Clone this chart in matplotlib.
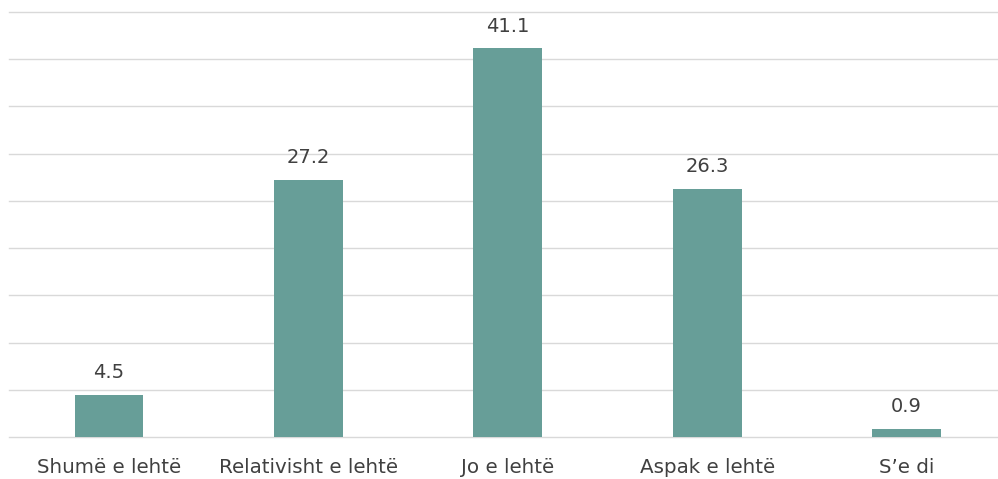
import matplotlib.pyplot as plt

categories = ["Shumë e lehtë", "Relativisht e lehtë", "Jo e lehtë", "Aspak e lehtë", "S’e di"]
values = [4.5, 27.2, 41.1, 26.3, 0.9]

plt.rcParams["font.family"] = ["DejaVu Sans"]

fig = plt.figure(figsize=(9.98, 4.79), dpi=100)
ax = fig.add_axes([9.3 / 998, 41.7 / 479, 997 / 998, 425.7 / 479])

x = range(len(categories))
bars = ax.bar(x, values, width=0.345, color="#679e98", zorder=3)

for b, v in zip(bars, values):
    ax.annotate("%.1f" % v, (b.get_x() + b.get_width() / 2, v),
                xytext=(0, 9), textcoords="offset points",
                ha="center", va="bottom", fontsize=14, color="#404040")

ax.set_xlim(-0.5, len(categories) - 0.5)
ax.set_ylim(0, 45)
ax.set_yticks(range(0, 46, 5))
ax.yaxis.grid(True, color="#d9d9d9", linewidth=1.0, zorder=0)
for gl in ax.get_ygridlines():
    gl.set_clip_on(False)
ax.set_yticklabels([])
ax.tick_params(axis="y", length=0)

ax.set_xticks(list(x))
ax.set_xticklabels(categories, fontsize=14.3, color="#404040")
ax.tick_params(axis="x", length=0, pad=15)

for s in ax.spines.values():
    s.set_visible(False)

fig.savefig("out.png", dpi=100)
